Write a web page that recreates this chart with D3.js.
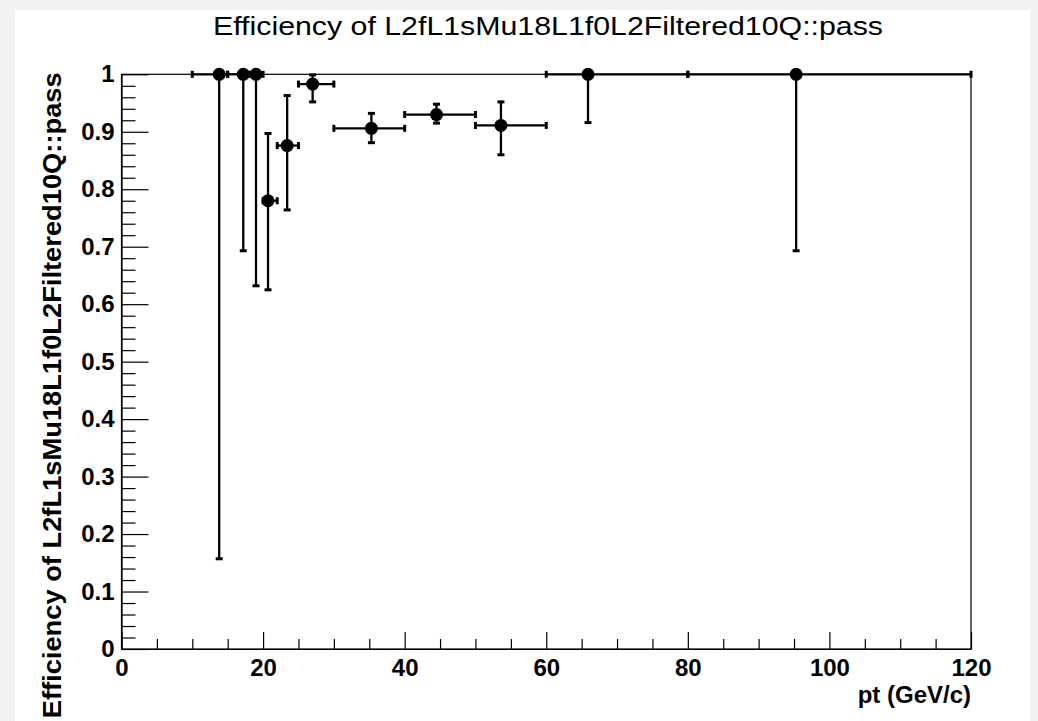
<!DOCTYPE html>
<html lang="en">
<head>
  <meta charset="utf-8">
  <script src="https://d3js.org/d3.v7.min.js"></script>
  <style>
    body { margin: 0; background: #f2f2f2; }
    text { font-family: 'Liberation Sans', Arial, Helvetica, sans-serif; fill: #000; }
    .axis text { font-size: 24px; font-weight: bold; }
    .axis path, .axis line { stroke: #000; stroke-width: 1.2; }
    .err { stroke: #000; stroke-width: 2.3; fill: none; }
    .cap { stroke: #000; stroke-width: 3; }
  </style>
</head>
<body>
  <svg id="chart" width="1038" height="721"></svg>
  <script>
    // efficiency points (pt mean, bin edges, efficiency with asymmetric errors)
    const ptVal   = [13.8, 17.2, 19.0, 20.7, 23.4, 27.0, 35.3, 44.5, 53.6, 65.9, 95.3];
    const ptLow   = [10, 15, 18, 20, 22, 25, 30, 40, 50, 60, 80];
    const ptHigh  = [15, 18, 20, 22, 25, 30, 40, 50, 60, 80, 120];
    const eff     = [1, 1, 1, 0.780, 0.876, 0.983, 0.906, 0.930, 0.911, 1, 1];
    const effLow  = [0.157, 0.693, 0.632, 0.625, 0.764, 0.952, 0.881, 0.915, 0.860, 0.916, 0.693];
    const effHigh = [1, 1, 1, 0.897, 0.963, 0.999, 0.932, 0.948, 0.952, 1, 1];

    const xTicks = [0, 20, 40, 60, 80, 100, 120];
    const xTickLabels = ["0", "20", "40", "60", "80", "100", "120"];
    const yTicks = [0, 0.1, 0.2, 0.3, 0.4, 0.5, 0.6, 0.7, 0.8, 0.9, 1];
    const yTickLabels = ["0", "0.1", "0.2", "0.3", "0.4", "0.5", "0.6", "0.7", "0.8", "0.9", "1"];

    const titleText = "Efficiency of L2fL1sMu18L1f0L2Filtered10Q::pass";
    const xTitle = "pt (GeV/c)";
    const yTitle = "Efficiency of L2fL1sMu18L1f0L2Filtered10Q::pass";

    const svg = d3.select("#chart");
    const frame = {left: 121.5, right: 971, top: 74.3, bottom: 649};

    svg.append("rect").attr("width", 1038).attr("height", 721).attr("fill", "#f2f2f2");
    svg.append("rect").attr("x", 15).attr("y", 10).attr("width", 1015).attr("height", 711).attr("fill", "#fff");

    const x = d3.scaleLinear().domain([0, 120]).range([frame.left, frame.right]);
    const y = d3.scaleLinear().domain([0, 1]).range([frame.bottom, frame.top]);

    // frame
    svg.append("rect")
       .attr("x", x(0)).attr("y", y(1))
       .attr("width", x(120) - x(0)).attr("height", y(0) - y(1))
       .attr("fill", "none").attr("stroke", "#000").attr("stroke-width", 1.2);

    // x axis
    svg.append("g").attr("class", "axis")
       .attr("transform", `translate(0,${y(0)})`)
       .call(d3.axisBottom(x).tickValues(xTicks)
             .tickFormat((d, i) => xTickLabels[i])
             .tickSizeInner(-17).tickSizeOuter(0).tickPadding(10));
    svg.append("g").attr("class", "axis")
       .attr("transform", `translate(0,${y(0)})`)
       .call(d3.axisBottom(x).tickValues(d3.range(0, 121, 5).filter(v => v % 20 !== 0))
             .tickFormat("").tickSizeInner(-10).tickSizeOuter(0))
       .select(".domain").remove();

    // y axis
    svg.append("g").attr("class", "axis")
       .attr("transform", `translate(${x(0)},0)`)
       .call(d3.axisLeft(y).tickValues(yTicks)
             .tickFormat((d, i) => yTickLabels[i])
             .tickSizeInner(-27).tickSizeOuter(0).tickPadding(7));
    svg.append("g").attr("class", "axis")
       .attr("transform", `translate(${x(0)},0)`)
       .call(d3.axisLeft(y).tickValues(d3.range(0, 50).map(i => i * 0.02).filter((v, i) => i % 5 !== 0))
             .tickFormat("").tickSizeInner(-14).tickSizeOuter(0))
       .select(".domain").remove();

    // titles
    svg.append("text")
       .attr("x", 548).attr("y", 35)
       .attr("text-anchor", "middle")
       .attr("font-size", 26)
       .attr("textLength", 670).attr("lengthAdjust", "spacingAndGlyphs")
       .text(titleText);

    svg.append("text")
       .attr("x", x(120)).attr("y", 703)
       .attr("text-anchor", "end")
       .attr("font-size", 24).attr("font-weight", "bold")
       .text(xTitle);

    svg.append("text")
       .attr("transform", `translate(61,${y(1) - 2}) rotate(-90)`)
       .attr("text-anchor", "end")
       .attr("font-size", 26).attr("font-weight", "bold")
       .attr("textLength", 646).attr("lengthAdjust", "spacingAndGlyphs")
       .text(yTitle);

    // error bars and markers
    const pts = ptVal.map((p, i) => ({p, lo: ptLow[i], hi: ptHigh[i], e: eff[i], el: effLow[i], eh: effHigh[i]}));
    const g = svg.append("g");
    const capW = 3.5;

    pts.forEach(d => {
      g.append("line").attr("class", "err")
       .attr("x1", x(d.lo)).attr("x2", x(d.hi)).attr("y1", y(d.e)).attr("y2", y(d.e));
      g.append("line").attr("class", "err")
       .attr("x1", x(d.p)).attr("x2", x(d.p)).attr("y1", y(d.el)).attr("y2", y(d.eh));
      [d.lo, d.hi].forEach(v => {
        g.append("line").attr("class", "cap")
         .attr("x1", x(v)).attr("x2", x(v)).attr("y1", y(d.e) - capW).attr("y2", y(d.e) + capW);
      });
      [d.el, d.eh].forEach(v => {
        if (v === d.e) return;
        g.append("line").attr("class", "cap")
         .attr("x1", x(d.p) - capW).attr("x2", x(d.p) + capW).attr("y1", y(v)).attr("y2", y(v));
      });
    });

    g.selectAll("circle").data(pts).enter().append("circle")
     .attr("cx", d => x(d.p)).attr("cy", d => y(d.e))
     .attr("r", 6.5).attr("fill", "#000");
  </script>
</body>
</html>
